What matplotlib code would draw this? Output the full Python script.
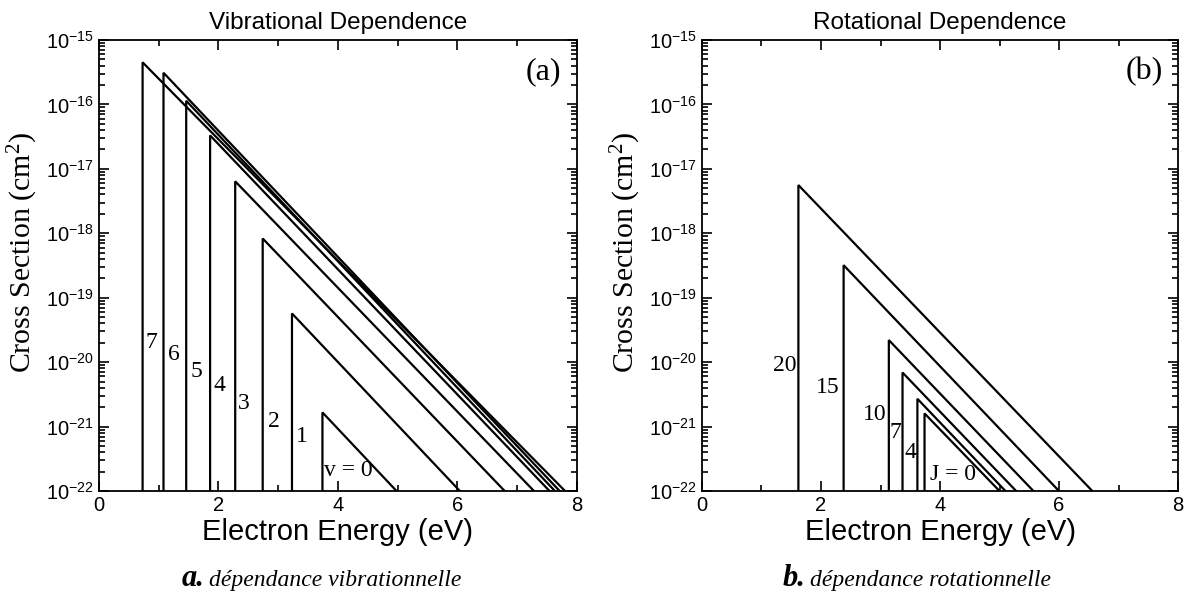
import matplotlib.pyplot as plt
import numpy as np

plt.rcParams["font.family"] = ["Liberation Sans", "DejaVu Sans"]
plt.rcParams["mathtext.default"] = "regular"

# vibrational dependence: threshold (eV), peak (cm^2), end energy (eV)
vib_levels = ["7", "6", "5", "4", "3", "2", "1", "v = 0"]
vib_onset = [0.73, 1.08, 1.46, 1.86, 2.28, 2.74, 3.23, 3.74]
vib_peak = [4.5e-16, 3.1e-16, 1.14e-16, 3.3e-17, 6.4e-18, 8.3e-19, 5.7e-20, 1.66e-21]
vib_end = [7.80, 7.71, 7.63, 7.54, 7.28, 6.79, 6.04, 4.98]
vib_lab_x = [0.87, 1.26, 1.63, 2.01, 2.43, 2.92, 3.40, 4.17]
vib_lab_y = [2.0e-20, 1.3e-20, 7.2e-21, 4.4e-21, 2.3e-21, 1.2e-21, 7.1e-22, 2.1e-22]

# rotational dependence
rot_levels = ["20", "15", "10", "7", "4", "J = 0"]
rot_onset = [1.62, 2.38, 3.14, 3.37, 3.62, 3.74]
rot_peak = [5.6e-18, 3.2e-19, 2.2e-20, 6.9e-21, 2.7e-21, 1.6e-21]
rot_end = [6.56, 6.00, 5.57, 5.28, 5.10, 5.00]
rot_lab_x = [1.39, 2.11, 2.90, 3.25, 3.50, 4.21]
rot_lab_y = [8.9e-21, 4.0e-21, 1.55e-21, 8.1e-22, 3.9e-22, 1.8e-22]

ymin = 1e-22
serif = "Liberation Serif"

fig = plt.figure(figsize=(11.88, 6.05), dpi=100)
axa = fig.add_axes([0.0833, 0.1884, 0.4024, 0.7455])
axb = fig.add_axes([0.5909, 0.1884, 0.4007, 0.7455])


def draw_panel(ax, onset, peak, end, labels, lx, ly, title, tag):
    for e0, p, e1 in zip(onset, peak, end):
        ax.plot([e0, e0, e1], [ymin, p, ymin], color="black", lw=1.6,
                solid_joinstyle="miter")
    for t, x, y in zip(labels, lx, ly):
        ax.text(x, y, t, family=serif, fontsize=17, ha="center", va="center")
    ax.set_yscale("log")
    ax.set_xlim(0, 8)
    ax.set_ylim(1e-22, 1e-15)
    ax.set_xticks([0, 2, 4, 6, 8])
    ax.set_xticks([1, 3, 5, 7], minor=True)
    ax.set_yticks([10.0 ** k for k in range(-22, -14)])
    ax.set_yticklabels([r"$10^{%d}$" % k for k in range(-22, -14)])
    ax.tick_params(which="both", direction="in", top=True, right=True,
                   labelsize=14.5, width=1.2)
    ax.tick_params(which="major", length=7)
    ax.tick_params(which="minor", length=4)
    for s in ax.spines.values():
        s.set_linewidth(1.3)
    ax.set_title(title, fontsize=17.5, pad=8)
    ax.set_xlabel("Electron Energy (eV)", fontsize=21, labelpad=2)
    ax.set_ylabel("Cross Section (cm$^2$)", family=serif, fontsize=21.5)
    ax.yaxis.set_label_coords(-0.123, 0.53)
    ax.text(0.929, 0.93, tag, transform=ax.transAxes, family=serif,
            fontsize=23, ha="center", va="center")


draw_panel(axa, vib_onset, vib_peak, vib_end, vib_levels, vib_lab_x, vib_lab_y,
           "Vibrational Dependence", "(a)")
draw_panel(axb, rot_onset, rot_peak, rot_end, rot_levels, rot_lab_x, rot_lab_y,
           "Rotational Dependence", "(b)")

captions = [(0.172, "a.", "dépendance vibrationnelle"),
            (0.678, "b.", "dépendance rotationnelle")]
for x, letter, words in captions:
    fig.text(x, 0.032, letter, family=serif, style="italic", weight="bold",
             fontsize=22, ha="right", va="baseline")
    fig.text(x + 0.004, 0.032, words, family=serif, style="italic",
             fontsize=17, ha="left", va="baseline")

fig.savefig("out.png", dpi=100)
